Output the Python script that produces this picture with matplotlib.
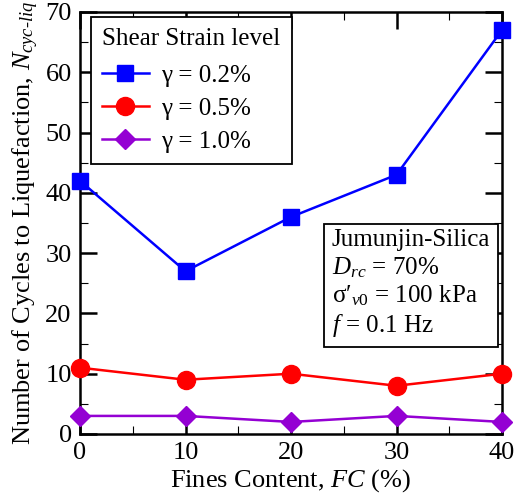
import numpy as np
import matplotlib
matplotlib.use('Agg')
import matplotlib.pyplot as plt
from matplotlib.ticker import MultipleLocator

# Data
fines_content = [0, 10, 20, 30, 40]
n_strain_02 = [42, 27, 36, 43, 67]
n_strain_05 = [11, 9, 10, 8, 10]
n_strain_10 = [3, 3, 2, 3, 2]
series_labels = ['γ = 0.2%', 'γ = 0.5%', 'γ = 1.0%']

plt.rcParams['font.family'] = ['Liberation Serif', 'DejaVu Serif']
plt.rcParams['mathtext.fontset'] = 'custom'
plt.rcParams['mathtext.rm'] = 'Liberation Serif'
plt.rcParams['mathtext.it'] = 'Liberation Serif:italic'

fs = 18
fig = plt.figure(figsize=(5.16, 5.04), dpi=100)
ax = fig.add_axes([80/516, 70/504, 422/516, 422/504])

ax.plot(fines_content, n_strain_02, color='#0000ff', marker='s', markersize=11.5, lw=1.8,
        label=series_labels[0], clip_on=False, zorder=5)
ax.plot(fines_content, n_strain_05, color='#ff0000', marker='o', markersize=13, lw=1.8,
        label=series_labels[1], clip_on=False, zorder=5)
ax.plot(fines_content, n_strain_10, color='#9400d3', marker='D', markersize=10.5, lw=1.8,
        label=series_labels[2], clip_on=False, zorder=5)

ax.set_xlim(0, 40)
ax.set_ylim(0, 70)
ax.xaxis.set_major_locator(MultipleLocator(10))
ax.xaxis.set_minor_locator(MultipleLocator(5))
ax.yaxis.set_major_locator(MultipleLocator(10))
ax.yaxis.set_minor_locator(MultipleLocator(5))
ax.tick_params(which='both', direction='in', top=True, right=True, labelsize=19, width=1.8)
ax.tick_params(which='major', length=12, pad=6)
ax.tick_params(which='minor', length=6, width=0.8)
for s in ax.spines.values():
    s.set_linewidth(1.8)

ax.set_xlabel('Fines Content, $\\mathit{FC}$ (%)', fontsize=19, labelpad=2)
ax.set_ylabel('Number of Cycles to Liquefaction, $\\mathit{N}_{\\mathit{cyc\\text{-}liq}}$',
              fontsize=19, labelpad=3)

leg = ax.legend(title='Shear Strain level', loc='upper left', fontsize=fs, title_fontsize=fs,
                frameon=True, fancybox=False, edgecolor='black', framealpha=1,
                bbox_to_anchor=(11/422, 1 - 5/422), borderaxespad=0,
                handlelength=1.85, handletextpad=0.5, labelspacing=0.42, borderpad=0.45,
                alignment='left')
leg.get_frame().set_linewidth(1.3)
leg._legend_box.sep = 10

info = ('Jumunjin-Silica\n'
        '$\\mathit{D}_{\\mathit{rc}}$ = 70%\n'
        'σ$\\prime_{\\mathit{v0}}$ = 100 kPa\n'
        '$\\mathit{f}$ = 0.1 Hz')
ax.text(0.597, 0.485, info, transform=ax.transAxes, ha='left', va='top', fontsize=fs,
        linespacing=1.2,
        bbox=dict(boxstyle='square,pad=0.3', facecolor='white', edgecolor='black', linewidth=1.3))

fig.savefig('out.png', dpi=100)
